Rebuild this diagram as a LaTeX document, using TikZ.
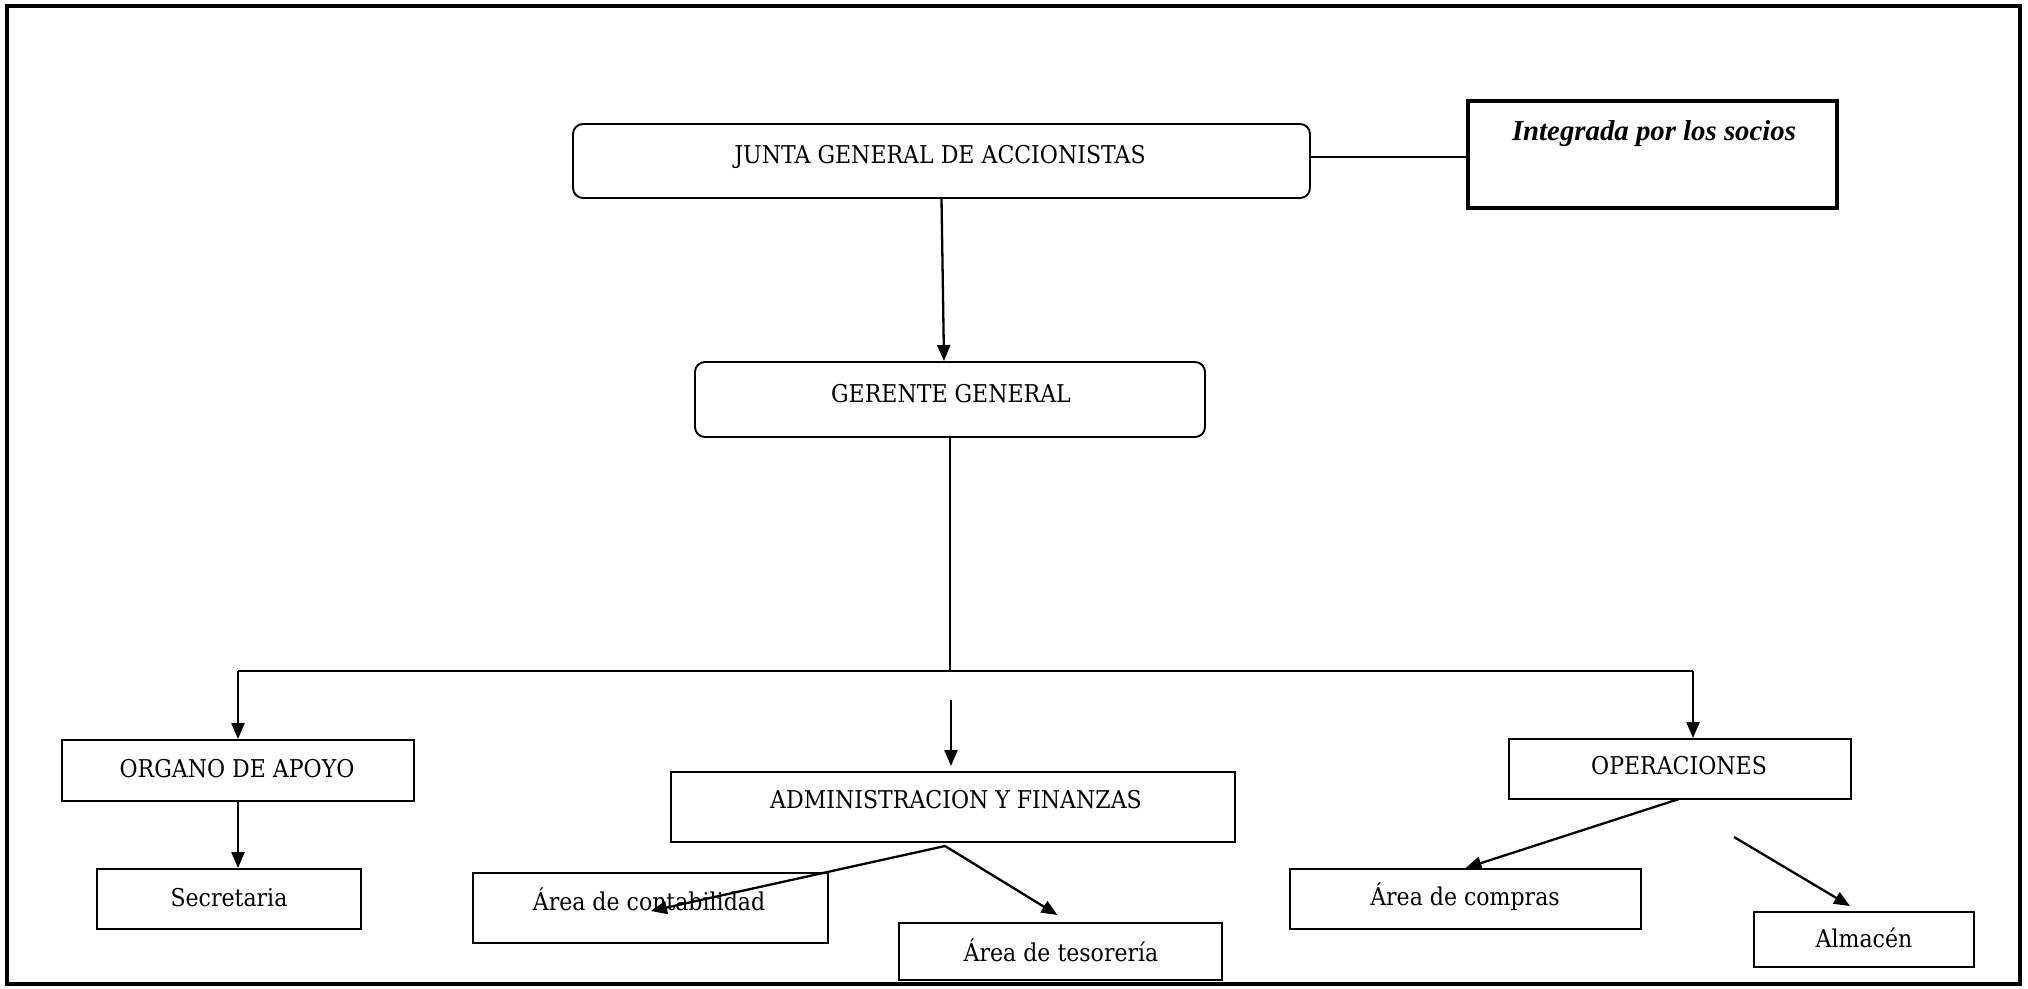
\documentclass[tikz,border=0pt]{standalone}
\usepackage{fontspec}
\setmainfont{DejaVu Serif}[FakeStretch=0.9]
\newfontfamily\notefont{Liberation Serif}
\usetikzlibrary{arrows.meta,calc}
\tikzset{
  box/.style={draw, line width=1.9pt, inner sep=0pt},
  rbox/.style={box, rounded corners=10pt},
  thickbox/.style={draw, line width=3.8pt, inner sep=0pt},
  lbl/.style={anchor=base, inner sep=0pt, font=\fontsize{24.5}{28}\selectfont},
  conn/.style={line width=2.1pt},
  arr/.style={line width=2.3pt, -{Triangle[length=16pt,width=13pt]}},
}
\begin{document}
\begin{tikzpicture}[x=1pt,y=-1pt]
\useasboundingbox (0,0) rectangle (2028,988);
\draw[line width=4pt] (7,6) rectangle (2020,984);
% boxes
\node[rbox, minimum width=737pt, minimum height=74pt] (junta) at (941.5,161) {};
\node[thickbox, minimum width=369pt, minimum height=107pt] (integ) at (1652.5,154.5) {};
\node[rbox, minimum width=510pt, minimum height=75pt] (gerente) at (950,399.5) {};
\node[box, minimum width=352pt, minimum height=61pt] (organo) at (238,770.5) {};
\node[box, minimum width=264pt, minimum height=60pt] (secret) at (229,899) {};
\node[box, minimum width=564pt, minimum height=70pt] (admin) at (953,807) {};
\node[box, minimum width=355pt, minimum height=70pt] (conta) at (650.5,908) {};
\node[box, minimum width=323pt, minimum height=57pt] (teso) at (1060.5,951.5) {};
\node[box, minimum width=342pt, minimum height=60pt] (oper) at (1680,769) {};
\node[box, minimum width=351pt, minimum height=60pt] (compras) at (1465.5,899) {};
\node[box, minimum width=220pt, minimum height=55pt] (almacen) at (1864,939.5) {};
% labels
\node[lbl] (tjunta) at (940,163) {JUNTA GENERAL DE ACCIONISTAS};
\node[anchor=base, inner sep=0pt, font=\notefont\bfseries\itshape\fontsize{28.8}{32}\selectfont] (tinteg) at (1654,140) {Integrada por los socios};
\node[lbl] (tgerente) at (951,402) {GERENTE GENERAL};
\node[lbl] (torgano) at (237,777) {ORGANO DE APOYO};
\node[lbl] (tsecret) at (229,906) {Secretaria};
\node[lbl] (tadmin) at (956,808) {ADMINISTRACION Y FINANZAS};
\node[lbl] (tconta) at (649,910) {Área de contabilidad};
\node[lbl] (tteso) at (1061,961) {Área de tesorería};
\node[lbl] (toper) at (1679,774) {OPERACIONES};
\node[lbl] (tcompras) at (1465,905) {Área de compras};
\node[lbl] (talmacen) at (1864,947) {Almacén};
% coordinates
\coordinate (busL) at (238,671);
\coordinate (busR) at (1693,671);
\coordinate (admTop) at (951,700);
\coordinate (admSplit) at (945,846);
\coordinate (contaEnd) at (651,911);
\coordinate (operSplit) at (1679,799);
\coordinate (almStart) at (1734,837);
% connectors
\draw[conn] ([yshift=4pt]junta.east) -- ([yshift=4pt]junta.east -| integ.west);
\draw[arr] (junta.south) -- ($(gerente.north)+(-6,0)$);
\draw[conn] (gerente.south) -- (gerente.south |- busL);
\draw[conn] (busL) -- (busR);
\draw[arr] (busL) -- (organo.north);
\draw[arr] (busR) -- (busR |- oper.north);
\draw[arr] (admTop) -- ($(admin.north)+(-2,-5)$);
\draw[arr] (organo.south) -- (organo.south |- secret.north);
\draw[arr] (admSplit) -- (contaEnd);
\draw[arr] (admSplit) -- ($(teso.north)+(-3,-7)$);
\draw[arr] (operSplit) -- ($(compras.north)+(0,0)$);
\draw[arr] (almStart) -- ($(almacen.north)+(-14,-5)$);
\end{tikzpicture}
\end{document}
